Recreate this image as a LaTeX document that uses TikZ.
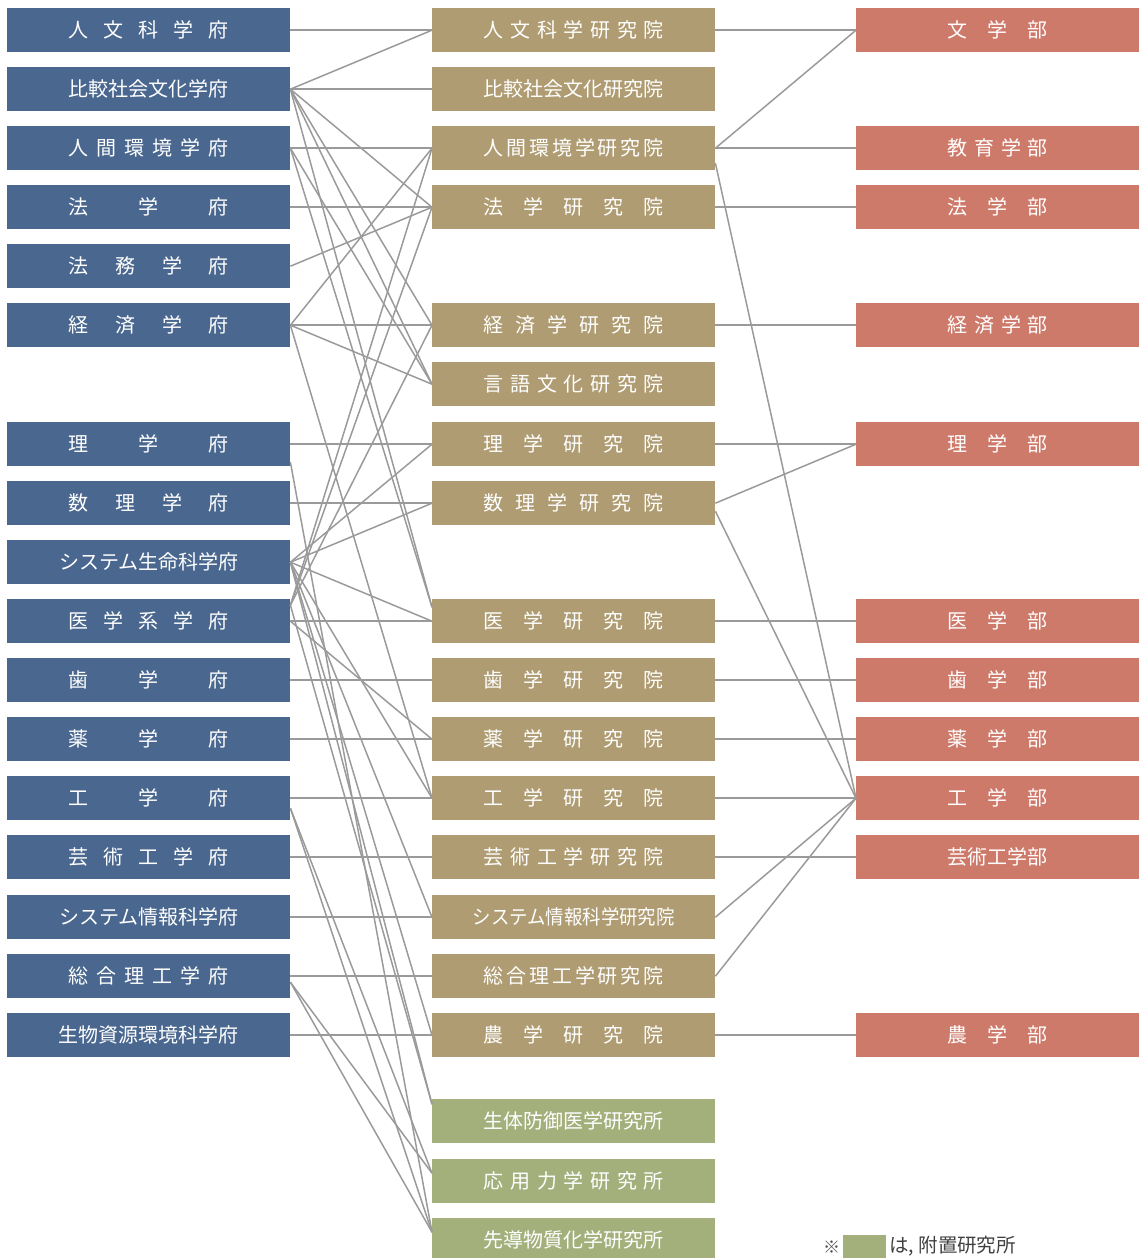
\documentclass[tikz,border=0pt]{standalone}
\usepackage{fontspec}
\setmainfont{Noto Sans CJK JP}
\usetikzlibrary{calc}
\definecolor{lblue}{HTML}{4A688F}
\definecolor{mgold}{HTML}{AF9C72}
\definecolor{rsalmon}{HTML}{CE7A6A}
\definecolor{ggreen}{HTML}{A3B07C}
\definecolor{lgray}{HTML}{9A9A9A}
\newcommand{\jl}[1]{\makebox[160pt]{#1}}
\newcommand{\jm}[1]{\makebox[180pt]{#1}}
\newcommand{\jr}[1]{\makebox[100pt]{#1}}
\newcommand{\hf}{\hfill}
\begin{document}
\begin{tikzpicture}[x=1pt,y=-1pt,
  box/.style={minimum width=283pt, minimum height=44pt, inner sep=0pt, anchor=north west, text=white, font=\fontsize{20}{20}\selectfont},
  lbox/.style={box, fill=lblue},
  mbox/.style={box, fill=mgold},
  rbox/.style={box, fill=rsalmon},
  gbox/.style={box, fill=ggreen},
  conn/.style={draw=lgray, line width=1.5pt}]
\useasboundingbox (0,0) rectangle (1147,1258);
% left column
\node[lbox] (l1) at (7,8) {\jl{人\hf 文\hf 科\hf 学\hf 府}};
\node[lbox] (l2) at (7,67) {\jl{比較社会文化学府}};
\node[lbox] (l3) at (7,126) {\jl{人\hf 間\hf 環\hf 境\hf 学\hf 府}};
\node[lbox] (l4) at (7,185) {\jl{法\hf 学\hf 府}};
\node[lbox] (l5) at (7,244) {\jl{法\hf 務\hf 学\hf 府}};
\node[lbox] (l6) at (7,303) {\jl{経\hf 済\hf 学\hf 府}};
\node[lbox] (l7) at (7,422) {\jl{理\hf 学\hf 府}};
\node[lbox] (l8) at (7,481) {\jl{数\hf 理\hf 学\hf 府}};
\node[lbox] (l9) at (7,540) {\makebox[180pt]{システム生命科学府}};
\node[lbox] (l10) at (7,599) {\jl{医\hf 学\hf 系\hf 学\hf 府}};
\node[lbox] (l11) at (7,658) {\jl{歯\hf 学\hf 府}};
\node[lbox] (l12) at (7,717) {\jl{薬\hf 学\hf 府}};
\node[lbox] (l13) at (7,776) {\jl{工\hf 学\hf 府}};
\node[lbox] (l14) at (7,835) {\jl{芸\hf 術\hf 工\hf 学\hf 府}};
\node[lbox] (l15) at (7,895) {\makebox[180pt]{システム情報科学府}};
\node[lbox] (l16) at (7,954) {\jl{総\hf 合\hf 理\hf 工\hf 学\hf 府}};
\node[lbox] (l17) at (7,1013) {\makebox[180pt]{生物資源環境科学府}};
% middle column
\node[mbox] (m1) at (432,8) {\jm{人\hf 文\hf 科\hf 学\hf 研\hf 究\hf 院}};
\node[mbox] (m2) at (432,67) {\jm{比較社会文化研究院}};
\node[mbox] (m3) at (432,126) {\jm{人\hf 間\hf 環\hf 境\hf 学\hf 研\hf 究\hf 院}};
\node[mbox] (m4) at (432,185) {\jm{法\hf 学\hf 研\hf 究\hf 院}};
\node[mbox] (m5) at (432,303) {\jm{経\hf 済\hf 学\hf 研\hf 究\hf 院}};
\node[mbox] (m6) at (432,362) {\jm{言\hf 語\hf 文\hf 化\hf 研\hf 究\hf 院}};
\node[mbox] (m7) at (432,422) {\jm{理\hf 学\hf 研\hf 究\hf 院}};
\node[mbox] (m8) at (432,481) {\jm{数\hf 理\hf 学\hf 研\hf 究\hf 院}};
\node[mbox] (m9) at (432,599) {\jm{医\hf 学\hf 研\hf 究\hf 院}};
\node[mbox] (m10) at (432,658) {\jm{歯\hf 学\hf 研\hf 究\hf 院}};
\node[mbox] (m11) at (432,717) {\jm{薬\hf 学\hf 研\hf 究\hf 院}};
\node[mbox] (m12) at (432,776) {\jm{工\hf 学\hf 研\hf 究\hf 院}};
\node[mbox] (m13) at (432,835) {\jm{芸\hf 術\hf 工\hf 学\hf 研\hf 究\hf 院}};
\node[mbox] (m14) at (432,895) {\scalebox{0.92}[1]{システム情報科学研究院}};
\node[mbox] (m15) at (432,954) {\jm{総\hf 合\hf 理\hf 工\hf 学\hf 研\hf 究\hf 院}};
\node[mbox] (m16) at (432,1013) {\jm{農\hf 学\hf 研\hf 究\hf 院}};
\node[gbox] (g1) at (432,1099) {\jm{生体防御医学研究所}};
\node[gbox] (g2) at (432,1159) {\jm{応\hf 用\hf 力\hf 学\hf 研\hf 究\hf 所}};
\node[gbox] (g3) at (432,1218) {\jm{先導物質化学研究所}};
% right column
\node[rbox] (r1) at (856,8) {\jr{文\hf 学\hf 部}};
\node[rbox] (r2) at (856,126) {\jr{教\hf 育\hf 学\hf 部}};
\node[rbox] (r3) at (856,185) {\jr{法\hf 学\hf 部}};
\node[rbox] (r4) at (856,303) {\jr{経\hf 済\hf 学\hf 部}};
\node[rbox] (r5) at (856,422) {\jr{理\hf 学\hf 部}};
\node[rbox] (r6) at (856,599) {\jr{医\hf 学\hf 部}};
\node[rbox] (r7) at (856,658) {\jr{歯\hf 学\hf 部}};
\node[rbox] (r8) at (856,717) {\jr{薬\hf 学\hf 部}};
\node[rbox] (r9) at (856,776) {\jr{工\hf 学\hf 部}};
\node[rbox] (r10) at (856,835) {\jr{芸術工学部}};
\node[rbox] (r11) at (856,1013) {\jr{農\hf 学\hf 部}};
% legend
\node[anchor=west, inner sep=0pt, font=\fontsize{17}{18}\selectfont, text=black!70] (ast) at (823,1247) {※};
\node[fill=ggreen, minimum width=43pt, minimum height=23pt, inner sep=0pt, anchor=west] (lg) at (843,1246.5) {};
\node[anchor=west, inner sep=0pt, font=\fontsize{19.5}{20}\selectfont, text=black!75] (lgt) at (889,1246) {は, 附置研究所};
% left-middle connectors (horizontal)
\foreach \a/\b in {l1/m1, l2/m2, l3/m3, l4/m4, l6/m5, l7/m7, l8/m8, l10/m9, l11/m10, l12/m11, l13/m12, l14/m13, l15/m14, l16/m15, l17/m16}
  \draw[conn] (\a.east) -- (\b.west);
% left-middle connectors (slanted)
\foreach \a/\b in {l2/m1, l2/m4, l2/m5, l2/m6, l3/m6, l5/m4, l6/m3, l6/m6, l6/m12, l9/m7, l9/m8, l9/m9, l9/m12, l9/m14, l9/m16, l10/m11}
  \draw[conn] (\a.east) -- (\b.west);
\foreach \a in {l2, l3}
  \draw[conn] (\a.east) -- ($(m9.west)+(0,-14)$);
\foreach \b in {m3, m4, m5}
  \draw[conn] ($(l10.east)+(0,-16)$) -- (\b.west);
\draw[conn] ($(l10.east)+(0,-16)$) -- ($(g1.west)+(0,-17)$);
\draw[conn] (l9.east) -- ($(g1.west)+(0,-17)$);
\foreach \b in {g2, g3}
  \draw[conn] ($(l13.east)+(0,10)$) -- ($(\b.west)+(0,-8)$);
\foreach \b in {g2, g3}
  \draw[conn] ($(l16.east)+(0,6)$) -- ($(\b.west)+(0,-8)$);
\draw[conn] ($(l7.east)+(0,18)$) -- ($(g3.west)+(0,-8)$);
% middle-right connectors
\foreach \a/\b in {m1/r1, m3/r2, m4/r3, m5/r4, m7/r5, m9/r6, m10/r7, m11/r8, m12/r9, m13/r10, m16/r11, m3/r1, m8/r5, m14/r9, m15/r9}
  \draw[conn] (\a.east) -- (\b.west);
\draw[conn] ($(m3.east)+(0,15)$) -- (r9.west);
\draw[conn] ($(m8.east)+(0,8)$) -- (r9.west);
\end{tikzpicture}
\end{document}
